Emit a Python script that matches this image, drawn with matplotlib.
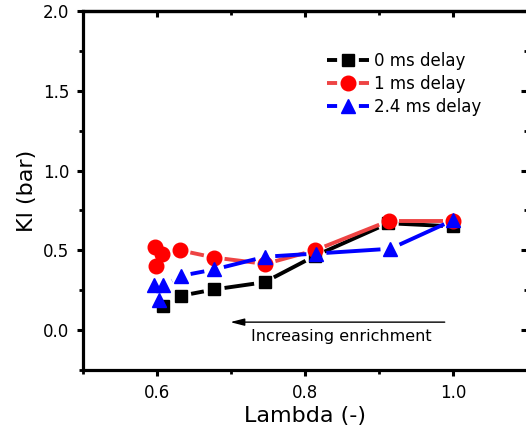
import numpy as np
import matplotlib
matplotlib.use('Agg')
import matplotlib.pyplot as plt
from matplotlib.ticker import MultipleLocator
from matplotlib.lines import Line2D

# data
lam_0ms = [0.608, 0.632, 0.677, 0.745, 0.813, 0.912, 1.0]
kl_0ms = [0.15, 0.215, 0.255, 0.30, 0.465, 0.67, 0.65]

lam_1ms = [0.598, 0.597, 0.607, 0.631, 0.677, 0.746, 0.813, 0.913, 1.0]
kl_1ms = [0.40, 0.52, 0.48, 0.50, 0.455, 0.415, 0.50, 0.685, 0.685]

lam_24ms = [0.603, 0.596, 0.608, 0.632, 0.677, 0.746, 0.815, 0.915, 1.0]
kl_24ms = [0.19, 0.28, 0.28, 0.34, 0.38, 0.46, 0.48, 0.51, 0.69]

labels = ['0 ms delay', '1 ms delay', '2.4 ms delay']

plt.rcParams['font.family'] = ['DejaVu Sans']

W, H = 526, 433
fig = plt.figure(figsize=(W/100, H/100), dpi=100)
ax = fig.add_axes([83/W, 63/H, 444.5/W, 359/H])
ax.set_xlim(0.5, 1.1)
ax.set_ylim(-0.25, 2.0)


def gap_segments(xs, ys, gap):
  # Origin style: line stops a few pixels short of each symbol
  pts = ax.transData.transform(np.column_stack([xs, ys]))
  inv = ax.transData.inverted()
  segs = []
  for p0, p1 in zip(pts[:-1], pts[1:]):
    d = p1 - p0
    L = np.hypot(d[0], d[1])
    if L <= 2*gap:
      continue
    u = d/L
    segs.append((inv.transform(p0 + u*gap), inv.transform(p1 - u*gap)))
  return segs


series = [
  (lam_0ms, kl_0ms, 'black', 'black', 's', 9, 10.5),
  (lam_1ms, kl_1ms, '#ee4444', 'red', 'o', 10.5, 10.5),
  (lam_24ms, kl_24ms, 'blue', 'blue', '^', 10.5, 10),
]

lw = 2.8
handles = []
for i, (x, y, lc, mc, mk, ms, gap) in enumerate(series):
  z = 3 + i
  for a, b in gap_segments(x, y, gap):
    ax.plot([a[0], b[0]], [a[1], b[1]], color=lc, lw=lw, solid_capstyle='butt', zorder=z)
  ax.plot(x, y, ls='none', marker=mk, ms=ms, color=mc, mec=mc, zorder=z)
  handles.append(Line2D([], [], color=lc, lw=lw, ls=(0, (2.6, 5.6)), marker=mk,
                        ms=ms, mfc=mc, mec=mc))

leg = ax.legend(handles, labels, loc='upper left', bbox_to_anchor=(327/W, 1 - 52/H),
                bbox_transform=fig.transFigure, frameon=False, fontsize=12,
                borderpad=0, borderaxespad=0, handlelength=2.5, handletextpad=0.35,
                labelspacing=0.3, numpoints=1)

ax.annotate('', xy=(0.695, 0.05), xytext=(0.992, 0.05),
            arrowprops=dict(arrowstyle='-|>,head_length=0.7,head_width=0.18',
                            color='black', lw=1.0, mutation_scale=12))
ax.text(0.849, -0.04, 'Increasing enrichment', ha='center', va='center', fontsize=11.5)

ax.set_xlabel('Lambda (-)', fontsize=16, labelpad=3)
ax.set_ylabel('Kl (bar)', fontsize=16, labelpad=4)

ax.xaxis.set_major_locator(MultipleLocator(0.2))
ax.xaxis.set_minor_locator(MultipleLocator(0.1))
ax.yaxis.set_major_locator(MultipleLocator(0.5))
ax.yaxis.set_minor_locator(MultipleLocator(0.25))
ax.tick_params(which='major', direction='out', length=4.5, width=2.2, labelsize=12, pad=5.5)
ax.tick_params(which='minor', direction='out', length=2.7, width=2)
for s in ax.spines.values():
  s.set_linewidth(2.3)

# top and right ticks point inward
secx = ax.secondary_xaxis('top')
secx.xaxis.set_major_locator(MultipleLocator(0.2))
secx.xaxis.set_minor_locator(MultipleLocator(0.1))
secx.tick_params(which='major', direction='in', length=4.5, width=2.2, labeltop=False)
secx.tick_params(which='minor', direction='in', length=2.7, width=2)
secx.spines['top'].set_linewidth(2.3)
secy = ax.secondary_yaxis('right')
secy.yaxis.set_major_locator(MultipleLocator(0.5))
secy.yaxis.set_minor_locator(MultipleLocator(0.25))
secy.tick_params(which='major', direction='in', length=5, width=2.2, labelright=False)
secy.tick_params(which='minor', direction='in', length=2.7, width=2)
secy.spines['right'].set_linewidth(2.3)

fig.savefig('out.png', dpi=100)
